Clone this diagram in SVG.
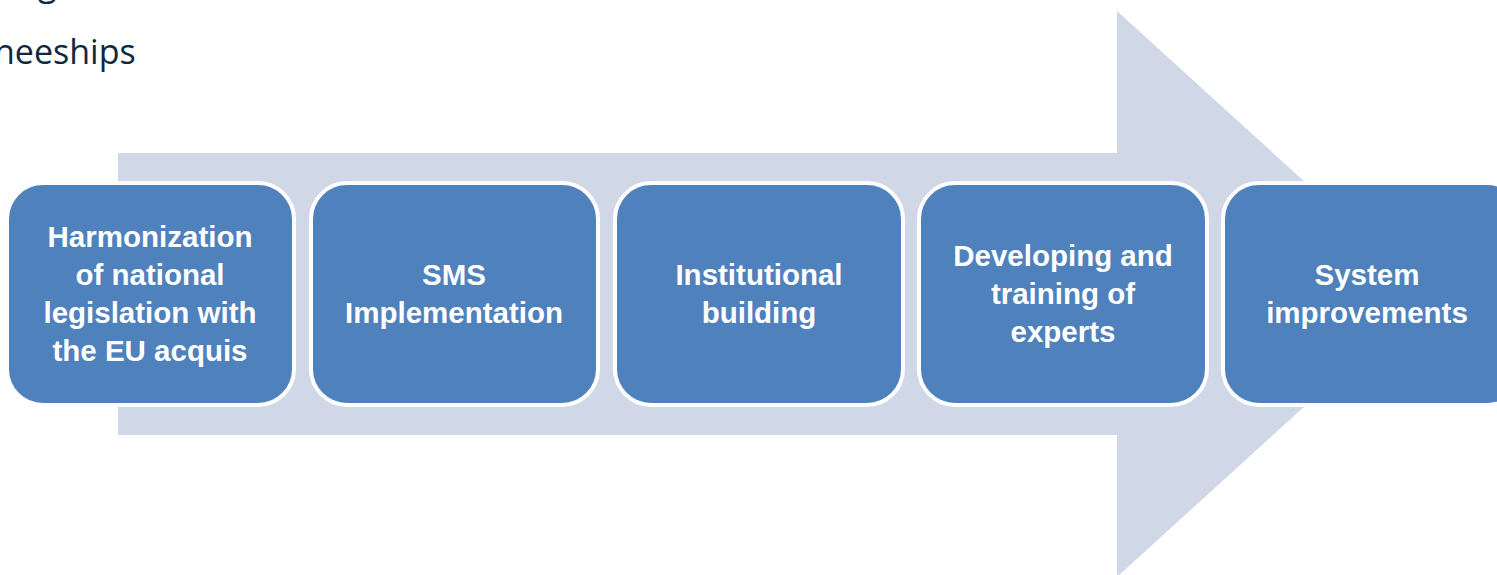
<svg xmlns="http://www.w3.org/2000/svg" width="1497" height="575" viewBox="0 0 1497 575">
<style>
.box{fill:#4f81bd;stroke:#ffffff;stroke-width:4}
.lbl{font-family:"Liberation Sans",Arial,sans-serif;font-weight:bold;font-size:29.5px;fill:#ffffff;text-anchor:middle}
.top{font-family:"Open Sans","Liberation Sans",sans-serif;font-size:34px;fill:#0e2841}
</style>
<rect width="1497" height="575" fill="#ffffff"/>
<text class="top" x="38" y="-4">g</text>
<text class="top" x="-6" y="64">neeships</text>
<g id="connectors">
<polygon points="118,153 1117,153 1117,11 1428,294 1117,577 1117,435 118,435" fill="#d0d8e8"/>
</g>
<g id="n1"><rect class="box" x="7" y="183" width="287" height="222" rx="36"/>
<text class="lbl" x="150" y="247">Harmonization</text><text class="lbl" x="150" y="285">of national</text><text class="lbl" x="150" y="323">legislation with</text><text class="lbl" x="150" y="361">the EU acquis</text></g>
<g id="n2"><rect class="box" x="311" y="183" width="287" height="222" rx="36"/>
<text class="lbl" x="454" y="285">SMS</text><text class="lbl" x="454" y="323">Implementation</text></g>
<g id="n3"><rect class="box" x="615" y="183" width="288" height="222" rx="36"/>
<text class="lbl" x="759" y="285">Institutional</text><text class="lbl" x="759" y="323">building</text></g>
<g id="n4"><rect class="box" x="919" y="183" width="288" height="222" rx="36"/>
<text class="lbl" x="1063" y="266">Developing and</text><text class="lbl" x="1063" y="304">training of</text><text class="lbl" x="1063" y="342">experts</text></g>
<g id="n5"><rect class="box" x="1223" y="183" width="300" height="222" rx="36"/>
<text class="lbl" x="1367" y="285">System</text><text class="lbl" x="1367" y="323">improvements</text></g>
</svg>
